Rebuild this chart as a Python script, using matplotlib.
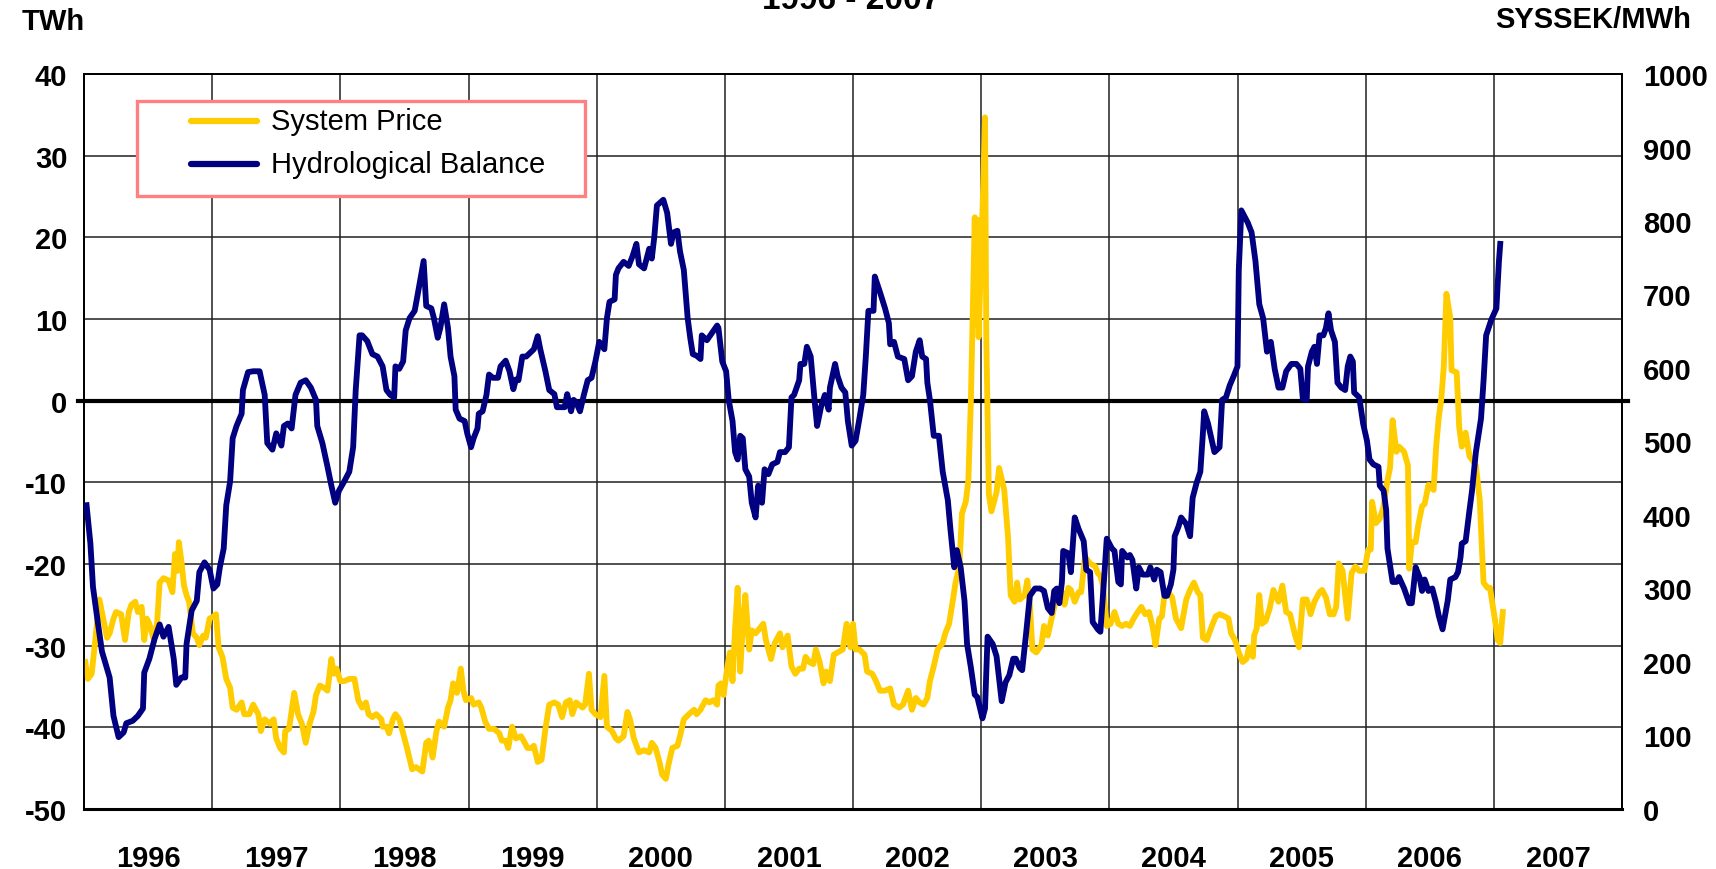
import matplotlib
matplotlib.use("Agg")
import matplotlib.pyplot as plt
from matplotlib.patches import Rectangle

plt.rcParams['font.family'] = ['Liberation Sans', 'DejaVu Sans']

# ---------------- data ----------------
title = "1996 - 2007"
left_unit = "TWh"
right_unit = "SYSSEK/MWh"
series_names = ["System Price", "Hydrological Balance"]
year_labels = [str(y) for y in range(1996, 2008)]

hydro_t = [1996.02, 1996.05, 1996.07, 1996.11, 1996.14, 1996.20, 1996.23, 1996.27, 1996.31, 1996.33,
           1996.38, 1996.42, 1996.46, 1996.47, 1996.51, 1996.55, 1996.59, 1996.62, 1996.66, 1996.70,
           1996.72, 1996.76, 1996.79, 1996.80, 1996.84, 1996.88, 1996.90, 1996.94, 1996.98, 1997.01,
           1997.04, 1997.06, 1997.09, 1997.11, 1997.14, 1997.16, 1997.19, 1997.23, 1997.24, 1997.28,
           1997.32, 1997.37, 1997.41, 1997.43, 1997.47, 1997.50, 1997.54, 1997.56, 1997.59, 1997.62,
           1997.65, 1997.69, 1997.73, 1997.77, 1997.81, 1997.82, 1997.86, 1997.90, 1997.93, 1997.96,
           1997.99, 1998.03, 1998.07, 1998.10, 1998.12, 1998.15, 1998.17, 1998.21, 1998.25, 1998.29,
           1998.33, 1998.36, 1998.39, 1998.42, 1998.43, 1998.46, 1998.49, 1998.51, 1998.54, 1998.58,
           1998.60, 1998.65, 1998.67, 1998.71, 1998.73, 1998.76, 1998.78, 1998.81, 1998.84, 1998.86,
           1998.89, 1998.90, 1998.93, 1998.97, 1998.99, 1999.02, 1999.04, 1999.07, 1999.08, 1999.11,
           1999.14, 1999.16, 1999.19, 1999.23, 1999.25, 1999.29, 1999.32, 1999.35, 1999.37, 1999.39,
           1999.42, 1999.45, 1999.47, 1999.51, 1999.54, 1999.56, 1999.60, 1999.63, 1999.67, 1999.69,
           1999.72, 1999.75, 1999.77, 1999.80, 1999.82, 1999.84, 1999.87, 1999.90, 1999.93, 1999.96,
           1999.99, 2000.02, 2000.06, 2000.08, 2000.10, 2000.14, 2000.15, 2000.17, 2000.21, 2000.25,
           2000.28, 2000.31, 2000.33, 2000.37, 2000.41, 2000.43, 2000.45, 2000.47, 2000.52, 2000.55,
           2000.58, 2000.60, 2000.63, 2000.65, 2000.68, 2000.71, 2000.73, 2000.75, 2000.78, 2000.81,
           2000.82, 2000.86, 2000.90, 2000.94, 2000.95, 2000.98, 2001.01, 2001.03, 2001.06, 2001.08,
           2001.10, 2001.12, 2001.14, 2001.16, 2001.19, 2001.21, 2001.24, 2001.26, 2001.29, 2001.31,
           2001.34, 2001.37, 2001.41, 2001.43, 2001.47, 2001.50, 2001.52, 2001.54, 2001.58, 2001.59,
           2001.62, 2001.64, 2001.67, 2001.70, 2001.72, 2001.75, 2001.78, 2001.81, 2001.82, 2001.86,
           2001.88, 2001.91, 2001.94, 2001.96, 2001.99, 2002.02, 2002.05, 2002.08, 2002.10, 2002.12,
           2002.16, 2002.17, 2002.21, 2002.25, 2002.28, 2002.29, 2002.32, 2002.35, 2002.40, 2002.43,
           2002.46, 2002.49, 2002.52, 2002.54, 2002.57, 2002.58, 2002.60, 2002.63, 2002.67, 2002.70,
           2002.74, 2002.76, 2002.79, 2002.81, 2002.84, 2002.87, 2002.89, 2002.92, 2002.95, 2002.97,
           2003.01, 2003.03, 2003.05, 2003.09, 2003.12, 2003.16, 2003.19, 2003.22, 2003.25, 2003.27,
           2003.30, 2003.32, 2003.35, 2003.38, 2003.42, 2003.46, 2003.49, 2003.52, 2003.55, 2003.57,
           2003.59, 2003.61, 2003.63, 2003.64, 2003.68, 2003.70, 2003.73, 2003.76, 2003.80, 2003.82,
           2003.85, 2003.87, 2003.91, 2003.93, 2003.95, 2003.98, 2004.02, 2004.04, 2004.07, 2004.09,
           2004.10, 2004.14, 2004.16, 2004.18, 2004.21, 2004.23, 2004.26, 2004.30, 2004.32, 2004.35,
           2004.37, 2004.40, 2004.43, 2004.45, 2004.48, 2004.50, 2004.51, 2004.54, 2004.56, 2004.60,
           2004.63, 2004.65, 2004.68, 2004.71, 2004.73, 2004.74, 2004.77, 2004.80, 2004.82, 2004.86,
           2004.88, 2004.91, 2004.94, 2004.97, 2005.00, 2005.01, 2005.03, 2005.06, 2005.08, 2005.11,
           2005.14, 2005.17, 2005.20, 2005.23, 2005.26, 2005.29, 2005.32, 2005.35, 2005.38, 2005.42,
           2005.46, 2005.49, 2005.51, 2005.54, 2005.55, 2005.58, 2005.60, 2005.62, 2005.64, 2005.67,
           2005.69, 2005.71, 2005.73, 2005.76, 2005.78, 2005.81, 2005.84, 2005.86, 2005.88, 2005.90,
           2005.91, 2005.95, 2005.98, 2006.01, 2006.03, 2006.06, 2006.10, 2006.11, 2006.14, 2006.16,
           2006.17, 2006.21, 2006.24, 2006.26, 2006.30, 2006.34, 2006.36, 2006.39, 2006.42, 2006.44,
           2006.46, 2006.49, 2006.52, 2006.55, 2006.57, 2006.60, 2006.64, 2006.66, 2006.70, 2006.72,
           2006.74, 2006.75, 2006.78, 2006.81, 2006.83, 2006.86, 2006.90, 2006.92, 2006.94, 2006.98,
           2007.02, 2007.04, 2007.05]
hydro_v = [-12.8, -17.5, -22.8, -27.4, -30.7, -33.9, -38.6, -41.2, -40.6, -39.5,
           -39.2, -38.6, -37.7, -33.3, -31.6, -29.2, -27.4, -28.9, -27.7, -31.6,
           -34.8, -33.9, -33.9, -29.8, -25.7, -24.5, -21.0, -19.8, -20.7, -23.0,
           -22.5, -20.4, -18.1, -12.8, -9.9, -4.6, -3.1, -1.6, 1.3, 3.5,
           3.6, 3.6, 0.7, -5.2, -6.0, -4.0, -5.5, -3.1, -2.8, -3.4,
           0.7, 2.2, 2.5, 1.6, 0.1, -3.1, -5.2, -8.1, -10.4, -12.5,
           -11.0, -9.9, -8.7, -5.7, 1.3, 8.0, 8.0, 7.3, 5.7, 5.4,
           4.2, 1.3, 0.7, 0.4, 4.2, 3.9, 4.8, 8.6, 10.1, 11.0,
           12.7, 17.1, 11.6, 11.3, 10.1, 7.7, 8.9, 11.8, 8.9, 5.4,
           3.0, -1.1, -2.2, -2.5, -4.0, -5.7, -4.6, -3.4, -1.6, -1.3,
           0.7, 3.2, 2.8, 2.8, 4.2, 4.9, 3.6, 1.4, 2.6, 2.5,
           5.4, 5.4, 5.7, 6.3, 7.9, 6.3, 3.6, 1.3, 0.8, -0.8,
           -0.8, -0.8, 0.8, -1.3, 0.1, -0.2, -1.3, 0.7, 2.5, 2.8,
           4.8, 7.2, 6.3, 10.1, 12.1, 12.4, 15.4, 16.2, 17.0, 16.5,
           17.7, 19.2, 16.7, 16.2, 18.6, 17.4, 20.1, 23.9, 24.6, 23.0,
           19.2, 20.6, 20.8, 18.3, 16.0, 10.1, 7.7, 5.7, 5.5, 5.1,
           8.0, 7.4, 8.3, 9.2, 8.9, 4.8, 3.6, 0.1, -2.5, -6.3,
           -7.2, -4.3, -4.6, -8.4, -9.3, -12.5, -14.3, -10.4, -12.5, -8.4,
           -9.0, -7.8, -7.5, -6.3, -6.3, -5.7, 0.4, 0.7, 2.5, 4.5,
           4.5, 6.6, 5.4, 0.1, -3.1, -0.8, 0.7, -1.1, 1.6, 4.5,
           3.0, 1.6, 1.0, -2.5, -5.5, -4.9, -2.2, 0.7, 5.4, 11.0,
           11.0, 15.2, 13.3, 11.3, 9.5, 6.9, 7.2, 5.4, 5.1, 2.5,
           3.0, 6.0, 7.4, 5.4, 5.1, 2.2, 0.1, -4.3, -4.3, -8.7,
           -12.2, -15.7, -20.4, -18.3, -20.4, -24.5, -29.8, -32.7, -36.0, -36.3,
           -38.9, -37.7, -28.9, -29.8, -31.3, -36.8, -34.5, -33.6, -31.6, -31.6,
           -32.7, -33.0, -28.6, -23.9, -23.0, -23.0, -23.3, -25.4, -26.0, -23.3,
           -23.0, -24.8, -22.2, -18.4, -18.7, -21.0, -14.3, -15.7, -17.2, -20.7,
           -21.0, -27.1, -28.0, -28.3, -23.9, -16.9, -18.1, -18.4, -22.2, -22.5,
           -18.4, -19.2, -18.9, -19.5, -23.0, -20.4, -21.3, -21.3, -20.4, -21.9,
           -20.7, -21.0, -23.9, -23.9, -22.5, -20.7, -16.6, -15.4, -14.3, -15.1,
           -16.6, -11.9, -10.1, -8.7, -4.0, -1.3, -2.8, -4.9, -6.3, -5.7,
           0.1, 0.4, 1.9, 3.0, 4.2, 16.0, 23.3, 22.4, 21.8, 20.6,
           17.1, 11.8, 10.1, 6.0, 7.2, 3.9, 1.6, 1.6, 3.6, 4.5,
           4.5, 3.9, 0.2, 0.1, 4.2, 6.0, 6.6, 4.5, 8.0, 8.0,
           8.9, 10.7, 8.6, 7.2, 2.2, 1.6, 1.3, 4.2, 5.4, 4.8,
           1.0, 0.4, -2.8, -4.9, -7.2, -7.8, -8.1, -10.4, -11.0, -13.4,
           -18.1, -22.2, -22.2, -21.6, -23.0, -24.8, -24.8, -20.4, -21.6, -23.3,
           -21.9, -23.3, -23.0, -24.8, -26.3, -28.0, -24.5, -21.9, -21.6, -21.0,
           -19.2, -17.5, -17.2, -13.4, -11.0, -6.3, -2.2, 2.5, 8.0, 9.9,
           11.3, 17.1, 19.2]

price_t = [1996.01, 1996.03, 1996.06, 1996.09, 1996.12, 1996.15, 1996.18, 1996.20, 1996.23, 1996.25,
           1996.29, 1996.32, 1996.35, 1996.37, 1996.40, 1996.42, 1996.45, 1996.47, 1996.49, 1996.51,
           1996.54, 1996.57, 1996.59, 1996.62, 1996.66, 1996.69, 1996.71, 1996.73, 1996.74, 1996.76,
           1996.78, 1996.80, 1996.82, 1996.85, 1996.88, 1996.90, 1996.93, 1996.95, 1996.98, 1997.01,
           1997.03, 1997.05, 1997.08, 1997.11, 1997.14, 1997.16, 1997.19, 1997.23, 1997.25, 1997.29,
           1997.32, 1997.36, 1997.38, 1997.41, 1997.45, 1997.48, 1997.50, 1997.53, 1997.56, 1997.57,
           1997.60, 1997.64, 1997.67, 1997.70, 1997.73, 1997.76, 1997.79, 1997.81, 1997.84, 1997.88,
           1997.90, 1997.93, 1997.95, 1997.97, 1998.00, 1998.03, 1998.07, 1998.11, 1998.14, 1998.17,
           1998.20, 1998.22, 1998.25, 1998.28, 1998.32, 1998.33, 1998.36, 1998.38, 1998.41, 1998.43,
           1998.46, 1998.49, 1998.52, 1998.56, 1998.59, 1998.64, 1998.67, 1998.69, 1998.72, 1998.75,
           1998.77, 1998.81, 1998.84, 1998.86, 1998.88, 1998.91, 1998.94, 1998.96, 1998.98, 1999.02,
           1999.04, 1999.08, 1999.10, 1999.13, 1999.16, 1999.20, 1999.24, 1999.26, 1999.29, 1999.31,
           1999.34, 1999.37, 1999.41, 1999.43, 1999.46, 1999.49, 1999.51, 1999.54, 1999.57, 1999.60,
           1999.63, 1999.67, 1999.70, 1999.73, 1999.76, 1999.79, 1999.81, 1999.84, 1999.86, 1999.89,
           1999.91, 1999.94, 1999.96, 1999.99, 2000.03, 2000.06, 2000.08, 2000.12, 2000.15, 2000.17,
           2000.21, 2000.24, 2000.26, 2000.29, 2000.33, 2000.37, 2000.41, 2000.43, 2000.46, 2000.49,
           2000.51, 2000.54, 2000.56, 2000.59, 2000.63, 2000.65, 2000.68, 2000.72, 2000.76, 2000.78,
           2000.81, 2000.85, 2000.88, 2000.91, 2000.94, 2000.95, 2000.97, 2000.99, 2001.02, 2001.04,
           2001.06, 2001.08, 2001.10, 2001.12, 2001.14, 2001.16, 2001.19, 2001.21, 2001.24, 2001.30,
           2001.32, 2001.36, 2001.39, 2001.43, 2001.45, 2001.49, 2001.52, 2001.55, 2001.58, 2001.61,
           2001.63, 2001.66, 2001.69, 2001.71, 2001.74, 2001.77, 2001.79, 2001.82, 2001.85, 2001.88,
           2001.92, 2001.95, 2001.98, 2002.00, 2002.02, 2002.05, 2002.09, 2002.11, 2002.15, 2002.18,
           2002.21, 2002.25, 2002.29, 2002.32, 2002.36, 2002.39, 2002.43, 2002.46, 2002.49, 2002.52,
           2002.55, 2002.58, 2002.60, 2002.63, 2002.66, 2002.70, 2002.72, 2002.75, 2002.78, 2002.80,
           2002.83, 2002.85, 2002.88, 2002.90, 2002.92, 2002.95, 2002.96, 2002.97, 2002.98, 2003.01,
           2003.03, 2003.04, 2003.06, 2003.08, 2003.12, 2003.14, 2003.18, 2003.21, 2003.23, 2003.26,
           2003.28, 2003.30, 2003.34, 2003.36, 2003.38, 2003.40, 2003.43, 2003.47, 2003.49, 2003.52,
           2003.55, 2003.57, 2003.60, 2003.63, 2003.65, 2003.68, 2003.70, 2003.73, 2003.76, 2003.78,
           2003.81, 2003.85, 2003.89, 2003.91, 2003.93, 2003.95, 2003.98, 2004.01, 2004.04, 2004.07,
           2004.10, 2004.13, 2004.16, 2004.19, 2004.21, 2004.25, 2004.28, 2004.31, 2004.34, 2004.36,
           2004.39, 2004.41, 2004.43, 2004.46, 2004.49, 2004.52, 2004.56, 2004.60, 2004.63, 2004.66,
           2004.69, 2004.71, 2004.73, 2004.76, 2004.80, 2004.83, 2004.86, 2004.90, 2004.93, 2004.95,
           2004.98, 2005.01, 2005.04, 2005.07, 2005.09, 2005.12, 2005.13, 2005.15, 2005.17, 2005.19,
           2005.22, 2005.25, 2005.28, 2005.32, 2005.35, 2005.38, 2005.41, 2005.45, 2005.48, 2005.51,
           2005.54, 2005.57, 2005.60, 2005.64, 2005.66, 2005.69, 2005.72, 2005.75, 2005.77, 2005.79,
           2005.82, 2005.86, 2005.89, 2005.92, 2005.95, 2005.99, 2006.02, 2006.04, 2006.05, 2006.08,
           2006.11, 2006.14, 2006.17, 2006.19, 2006.21, 2006.24, 2006.26, 2006.30, 2006.33, 2006.34,
           2006.36, 2006.39, 2006.41, 2006.44, 2006.46, 2006.49, 2006.53, 2006.55, 2006.57, 2006.59,
           2006.61, 2006.63, 2006.66, 2006.67, 2006.71, 2006.73, 2006.75, 2006.78, 2006.81, 2006.84,
           2006.86, 2006.89, 2006.91, 2006.92, 2006.95, 2006.97, 2006.99, 2007.01, 2007.03, 2007.05,
           2007.07]
price_v = [200, 177, 184, 233, 285, 259, 233, 239, 259, 268,
           265, 230, 268, 278, 282, 268, 275, 230, 259, 252,
           233, 252, 308, 314, 311, 295, 347, 324, 363, 337,
           304, 291, 282, 239, 233, 223, 236, 233, 259, 262,
           265, 220, 207, 177, 165, 138, 135, 145, 129, 129,
           142, 129, 106, 122, 116, 122, 96, 83, 77, 106,
           109, 158, 129, 116, 90, 116, 132, 155, 168, 164,
           161, 204, 184, 191, 174, 174, 177, 177, 148, 138,
           145, 129, 125, 129, 122, 112, 112, 103, 122, 129,
           122, 103, 83, 54, 57, 51, 90, 93, 70, 106,
           119, 112, 138, 148, 171, 158, 191, 161, 148, 151,
           142, 145, 138, 119, 109, 109, 103, 93, 93, 83,
           112, 96, 99, 93, 83, 83, 86, 64, 67, 109,
           142, 145, 142, 125, 145, 148, 129, 145, 142, 138,
           142, 184, 135, 129, 125, 181, 112, 106, 96, 93,
           99, 132, 122, 96, 77, 80, 77, 90, 83, 64,
           47, 41, 60, 83, 86, 99, 122, 129, 135, 129,
           135, 148, 145, 148, 142, 168, 171, 155, 194, 213,
           174, 246, 301, 187, 249, 291, 217, 243, 239, 252,
           230, 204, 226, 239, 220, 236, 194, 184, 191, 191,
           207, 200, 197, 217, 200, 171, 187, 174, 210, 213,
           217, 252, 220, 252, 217, 217, 210, 187, 184, 174,
           161, 161, 164, 142, 138, 142, 161, 135, 151, 145,
           142, 151, 174, 194, 217, 226, 239, 252, 285, 308,
           330, 402, 418, 447, 557, 805, 659, 802, 642, 811,
           941, 642, 428, 405, 431, 464, 434, 369, 291, 282,
           308, 285, 291, 311, 278, 217, 213, 223, 249, 236,
           259, 275, 298, 295, 278, 301, 298, 282, 295, 295,
           343, 334, 330, 321, 317, 304, 249, 252, 268, 252,
           249, 252, 249, 259, 265, 275, 265, 268, 246, 223,
           259, 262, 291, 295, 288, 259, 246, 285, 298, 308,
           295, 291, 233, 230, 249, 262, 265, 262, 259, 239,
           230, 213, 200, 204, 220, 207, 236, 246, 291, 252,
           256, 272, 298, 282, 304, 268, 265, 236, 220, 285,
           285, 265, 282, 295, 298, 288, 265, 265, 275, 334,
           324, 259, 321, 330, 324, 324, 353, 353, 418, 389,
           395, 412, 447, 464, 529, 486, 493, 486, 467, 327,
           363, 363, 386, 412, 415, 441, 434, 493, 532, 558,
           603, 701, 668, 597, 594, 519, 493, 512, 480, 473,
           467, 421, 343, 308, 301, 301, 278, 256, 230, 226,
           268]

twh_ticks = list(range(-50, 41, 10))
sek_ticks = list(range(0, 1001, 100))

# ---------------- style ----------------
YELLOW = "#FFCC00"
NAVY = "#000080"
FS = 21

fig = plt.figure(figsize=(17.16, 8.70), dpi=100)
ax = fig.add_axes([84 / 1716, 60 / 870, 1538 / 1716, 735 / 870])
ax2 = ax.twinx()
ax3 = ax.twinx()

x_start, x_end = int(year_labels[0]), int(year_labels[-1]) + 1
ax.set_xlim(x_start, x_end)
ax.set_ylim(twh_ticks[0], twh_ticks[-1])
ax2.set_ylim(sek_ticks[0], sek_ticks[-1])
ax3.set_ylim(twh_ticks[0], twh_ticks[-1])

# grid (bottom layer)
ax.set_yticks(twh_ticks)
ax.set_yticklabels([str(v) for v in twh_ticks], fontsize=FS, fontweight="bold")
ax.set_xticks(range(x_start, x_end + 1))
ax.set_xticklabels([])
ax.set_xticks([y + 0.5 for y in range(x_start, x_end)], minor=True)
ax.set_xticklabels(year_labels, minor=True, fontsize=FS, fontweight="bold")
ax.tick_params(axis="x", which="both", length=0)
ax.tick_params(axis="x", which="minor", pad=25)
ax.tick_params(axis="y", length=0, pad=12)
ax.grid(True, which="major", color="#202020", linewidth=1.1)
ax.set_axisbelow(True)
ax.axhline(0, color="black", linewidth=3.0, xmin=-0.004, xmax=1.004, clip_on=False, zorder=1.5)

# price on right axis
ax2.plot(price_t, price_v, color=YELLOW, linewidth=4.2, solid_joinstyle="round", zorder=3)
ax2.set_yticks(sek_ticks)
ax2.set_yticklabels([str(v) for v in sek_ticks], fontsize=FS, fontweight="bold")
ax2.tick_params(axis="y", length=0, pad=15)

# hydro on top
ax3.plot(hydro_t, hydro_v, color=NAVY, linewidth=4.2, solid_joinstyle="round", zorder=3)
ax3.set_yticks([])

for a in (ax, ax2, ax3):
    for s in a.spines.values():
        s.set_color("black")
        s.set_linewidth(1.2)
ax.spines["bottom"].set_linewidth(2.2)

# legend (manual box)
ax3.add_patch(Rectangle((0.0345, 0.834), 0.2912, 0.1293, transform=ax3.transAxes,
                        facecolor="white", edgecolor="#FF8080", linewidth=2.4, zorder=10))
for (yy, col, name) in [(0.9367, YELLOW, series_names[0]), (0.8776, NAVY, series_names[1])]:
    ax3.plot([0.0696, 0.1125], [yy, yy], transform=ax3.transAxes, color=col,
             linewidth=4.5, solid_capstyle="round", zorder=11)
    ax3.text(0.1216, yy, name, transform=ax3.transAxes, fontsize=FS, va="center",
             ha="left", zorder=11)

# titles / units
fig.text(851 / 1716, 1 - 9 / 870, title, ha="center", va="baseline",
         fontsize=24, fontweight="bold")
fig.text(22 / 1716, 1 - 22 / 870, left_unit, ha="left", va="center",
         fontsize=FS, fontweight="bold")
fig.text(1691 / 1716, 1 - 20 / 870, right_unit, ha="right", va="center",
         fontsize=FS, fontweight="bold")

fig.savefig("out.png", dpi=100, facecolor="white")
